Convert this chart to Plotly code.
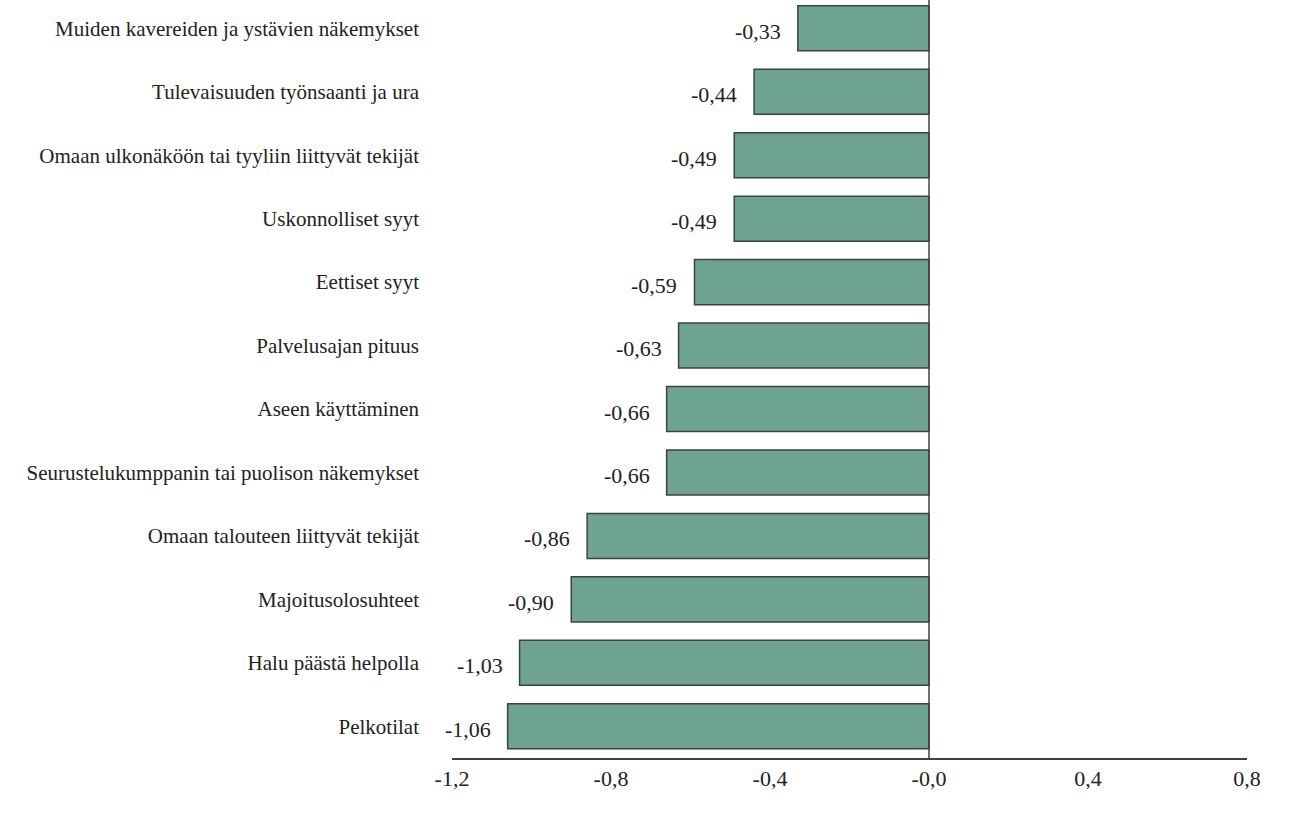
import plotly.graph_objects as go

categories = [
    "Pelkotilat",
    "Halu päästä helpolla",
    "Majoitusolosuhteet",
    "Omaan talouteen liittyvät tekijät",
    "Seurustelukumppanin tai puolison näkemykset",
    "Aseen käyttäminen",
    "Palvelusajan pituus",
    "Eettiset syyt",
    "Uskonnolliset syyt",
    "Omaan ulkonäköön tai tyyliin liittyvät tekijät",
    "Tulevaisuuden työnsaanti ja ura",
    "Muiden kavereiden ja ystävien näkemykset",
]
values = [-1.06, -1.03, -0.90, -0.86, -0.66, -0.66, -0.63, -0.59, -0.49, -0.49, -0.44, -0.33]
tick_vals = [-1.2, -0.8, -0.4, 0.0, 0.4, 0.8]
tick_text = ["-1,2", "-0,8", "-0,4", "-0,0", "0,4", "0,8"]

FONT = "Liberation Serif"
TXT = "#222222"

fig = go.Figure()
fig.add_trace(go.Bar(
    x=values, y=categories, orientation="h",
    marker=dict(color="#6fa391", line=dict(color="#404040", width=1.5)),
    width=0.71, hoverinfo="skip",
))

for c, v in zip(categories, values):
    fig.add_annotation(
        x=v, y=c, xref="x", yref="y",
        text=f"{v:.2f}".replace(".", ","),
        showarrow=False, xanchor="right", yanchor="middle",
        xshift=-15, yshift=-3,
        font=dict(family=FONT, size=22, color=TXT),
    )

fig.add_shape(type="line", xref="x", yref="paper", x0=0, x1=0, y0=0, y1=1,
              line=dict(color="#404040", width=1.5))

fig.update_layout(
    width=1293, height=829,
    margin=dict(l=452, r=46, t=0, b=71),
    plot_bgcolor="white", paper_bgcolor="white",
    showlegend=False,
    font=dict(family=FONT, size=21, color=TXT),
    xaxis=dict(
        range=[-1.2, 0.8], tickvals=tick_vals, ticktext=tick_text,
        showgrid=False, zeroline=False, showline=True,
        linecolor="#404040", linewidth=1.5, ticks="",
        tickfont=dict(family=FONT, size=22, color=TXT),
    ),
    yaxis=dict(
        categoryorder="array", categoryarray=categories,
        range=[-0.5, 11.446], showgrid=False, zeroline=False,
        showline=False, ticks="", ticklabelstandoff=32,
        tickfont=dict(family=FONT, size=21, color=TXT),
    ),
)

fig.write_html("out.html")
